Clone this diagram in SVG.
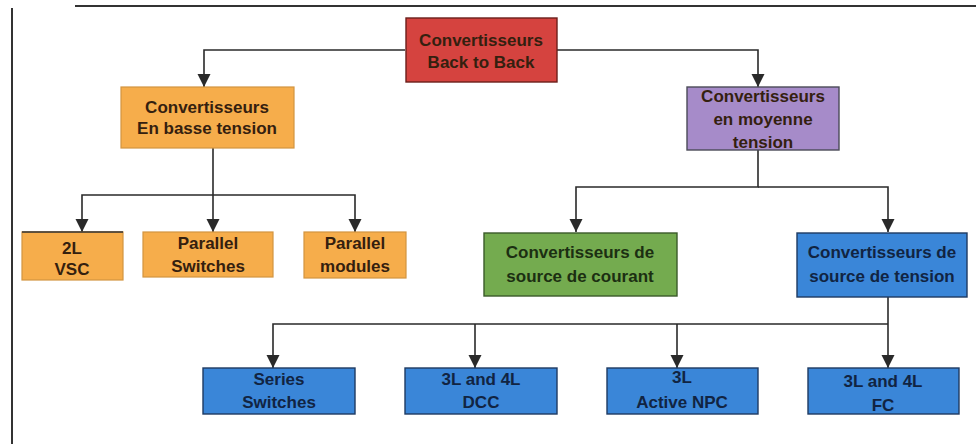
<svg xmlns="http://www.w3.org/2000/svg" width="976" height="444" viewBox="0 0 976 444">
<style>
  text { font-family: "Liberation Sans", Arial, sans-serif; font-weight: bold; font-size: 17px; text-anchor: middle; }
  .warm { fill: #34200f; }
  .cool { fill: #112442; }
  .grn { fill: #1c2f12; }
  .conn { fill: none; stroke: #2a2a2a; stroke-width: 1.6; }
  .red { fill: #d5433f; stroke: #6b1e1b; stroke-width: 1.4; }
  .orange { fill: #f6ad4b; stroke: #d39440; stroke-width: 1.2; }
  .purple { fill: #a68bc9; stroke: #4b4b58; stroke-width: 1.4; }
  .green { fill: #74ab4f; stroke: #3b5a2a; stroke-width: 1.4; }
  .blue { fill: #3a86d8; stroke: #1e3a62; stroke-width: 1.4; }
  .frame { stroke: #333; stroke-width: 2; fill: none; }
</style>
<defs>
  <marker id="arr" markerUnits="userSpaceOnUse" markerWidth="14" markerHeight="14" refX="13" refY="6.5" orient="auto">
    <path d="M0,0 L13,6.5 L0,13 Z" fill="#2a2a2a"/>
  </marker>
</defs>
<rect x="0" y="0" width="976" height="444" fill="#ffffff"/>
<g id="frame">
  <line class="frame" x1="75" y1="6" x2="976" y2="6"/>
  <line class="frame" x1="12" y1="8" x2="12" y2="444"/>
</g>
<g id="connectors">
  <path class="conn" d="M405,50 H204 V87" marker-end="url(#arr)"/>
  <path class="conn" d="M557,50 H758 V87" marker-end="url(#arr)"/>
  <path class="conn" d="M213,148 V232" marker-end="url(#arr)"/>
  <path class="conn" d="M213,195 H82 V232" marker-end="url(#arr)"/>
  <path class="conn" d="M213,195 H355 V232" marker-end="url(#arr)"/>
  <path class="conn" d="M758,150 V187 H576 V232" marker-end="url(#arr)"/>
  <path class="conn" d="M758,187 H888 V232" marker-end="url(#arr)"/>
  <path class="conn" d="M888,297 V368" marker-end="url(#arr)"/>
  <path class="conn" d="M888,324 H273 V368" marker-end="url(#arr)"/>
  <path class="conn" d="M475,324 V368" marker-end="url(#arr)"/>
  <path class="conn" d="M677,324 V368" marker-end="url(#arr)"/>
</g>
<g id="root">
  <rect class="red" x="406" y="18" width="151" height="64"/>
  <text class="warm" x="481" y="46">Convertisseurs</text>
  <text class="warm" x="481" y="68">Back to Back</text>
</g>
<g id="basse">
  <rect class="orange" x="121" y="87" width="173" height="61"/>
  <text class="warm" x="207" y="113">Convertisseurs</text>
  <text class="warm" x="207" y="134">En basse tension</text>
</g>
<g id="moyenne">
  <rect class="purple" x="687" y="87" width="152" height="63"/>
  <text class="warm" x="763" y="102">Convertisseurs</text>
  <text class="warm" x="763" y="125">en moyenne</text>
  <text class="warm" x="763" y="148">tension</text>
</g>
<g id="vsc2l">
  <rect class="orange" x="22" y="232" width="101" height="48"/>
  <line x1="22" y1="232" x2="123" y2="232" stroke="#333" stroke-width="1.6"/>
  <text class="warm" x="72" y="254">2L</text>
  <text class="warm" x="72" y="275">VSC</text>
</g>
<g id="parallel-switches">
  <rect class="orange" x="143" y="232" width="130" height="45"/>
  <text class="warm" x="208" y="249">Parallel</text>
  <text class="warm" x="208" y="272">Switches</text>
</g>
<g id="parallel-modules">
  <rect class="orange" x="304" y="232" width="102" height="46"/>
  <text class="warm" x="355" y="249">Parallel</text>
  <text class="warm" x="355" y="272">modules</text>
</g>
<g id="courant">
  <rect class="green" x="484" y="233" width="193" height="63"/>
  <text class="grn" x="580" y="258">Convertisseurs de</text>
  <text class="grn" x="580" y="282">source de courant</text>
</g>
<g id="tension">
  <rect class="blue" x="797" y="233" width="170" height="64"/>
  <text class="cool" x="882" y="258">Convertisseurs de</text>
  <text class="cool" x="882" y="282">source de tension</text>
</g>
<g id="series">
  <rect class="blue" x="203" y="368" width="152" height="46"/>
  <text class="cool" x="279" y="385">Series</text>
  <text class="cool" x="279" y="408">Switches</text>
</g>
<g id="dcc">
  <rect class="blue" x="405" y="368" width="152" height="46"/>
  <text class="cool" x="481" y="385">3L and 4L</text>
  <text class="cool" x="481" y="408">DCC</text>
</g>
<g id="npc">
  <rect class="blue" x="607" y="368" width="151" height="46"/>
  <text class="cool" x="682" y="383">3L</text>
  <text class="cool" x="682" y="408">Active NPC</text>
</g>
<g id="fc">
  <rect class="blue" x="808" y="368" width="151" height="46"/>
  <text class="cool" x="883" y="387">3L and 4L</text>
  <text class="cool" x="883" y="411">FC</text>
</g>
</svg>
